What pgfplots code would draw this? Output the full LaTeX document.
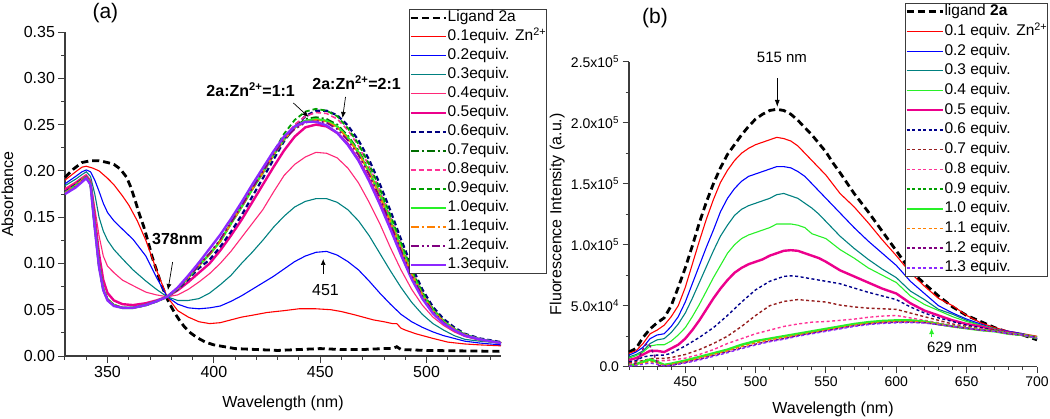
\documentclass[border=0pt]{standalone}
\usepackage{fontspec}
\setmainfont{Liberation Sans}
\usepackage{pgfplots}
\pgfplotsset{compat=1.18}
\usetikzlibrary{arrows.meta}

\definecolor{cteal}{RGB}{0,128,128}
\definecolor{cpinkred}{RGB}{255,40,120}
\definecolor{cpink}{RGB}{255,50,150}
\definecolor{cdgreen}{RGB}{0,110,0}
\definecolor{cgreen}{RGB}{0,160,0}
\definecolor{cbright}{RGB}{40,240,40}
\definecolor{corange}{RGB}{255,128,0}
\definecolor{cpurple}{RGB}{128,0,128}
\definecolor{cviolet}{RGB}{140,40,255}
\definecolor{cbrown}{RGB}{150,30,30}
\definecolor{caxis}{RGB}{60,60,60}

\pgfplotsset{
  spec/.style={
    scale only axis,
    axis lines=left,
    axis line style={-, line width=1.2pt, caxis},
    tick align=outside,
    major tick length=6.5pt,
    minor tick length=3.5pt,
    every tick/.style={line width=1pt, caxis},
    clip=false,
    legend cell align=left,
  },
  lig/.style={black, line width=2.8pt, dash pattern=on 7pt off 4pt},
  thin/.style={line width=1.1pt},
  fat/.style={line width=2.4pt},
}

\begin{document}
\begin{tikzpicture}
\path[use as bounding box] (0,0) rectangle (1050pt,418pt);

% ---------------- (a) absorption ----------------
\begin{axis}[spec,
  at={(65pt,62pt)}, anchor=south west,
  width=436pt, height=324pt,
  xmin=330, xmax=535, ymin=0, ymax=0.35,
  xtick={350,400,450,500}, xticklabels={350,400,450,500},
  minor xtick={330,340,...,530},
  ytick={0,0.05,0.1,0.15,0.2,0.25,0.3,0.35},
  yticklabels={0.00,0.05,0.10,0.15,0.20,0.25,0.30,0.35},
  minor ytick={0.025,0.075,0.125,0.175,0.225,0.275,0.325},
  tick label style={font=\fontsize{16}{18}\selectfont},
  xlabel={Wavelength (nm)}, ylabel={Absorbance},
  label style={font=\fontsize{16}{18}\selectfont},
  xlabel style={at={(axis description cs:0.5,-0.145)}, anchor=center},
  ylabel style={at={(axis description cs:-0.132,0.5)}, anchor=center},
  legend image code/.code={\draw[#1] (0pt,0pt) -- (35pt,0pt);},
  legend style={at={(0.789,1.071)}, anchor=north west, draw=caxis, line width=0.8pt,
    font=\fontsize{15.5}{17}\selectfont, inner xsep=0pt, inner ysep=1pt, row sep=4pt,
    nodes={inner sep=0.5pt, text height=11pt, text depth=3pt}},
]
\addplot[lig] coordinates {(330,0.193)(334,0.202)(338,0.209)(342,0.211)(346,0.211)(350,0.209)(353,0.207)(356,0.202)(359,0.193)(361,0.182)(363,0.168)(365,0.153)(367,0.140)(369,0.124)(371,0.107)(373,0.093)(375,0.079)(378,0.062)(380,0.053)(382,0.045)(384,0.038)(386,0.032)(389,0.025)(392,0.020)(396,0.015)(400,0.012)(405,0.010)(410,0.008)(420,0.007)(430,0.006)(440,0.007)(450,0.008)(460,0.007)(470,0.007)(480,0.008)(484,0.008)(486,0.010)(488,0.007)(500,0.006)(535,0.005)};
\addlegendentry{Ligand 2a}
\addplot[thin, red] coordinates {(330,0.190)(335,0.199)(338,0.204)(340,0.205)(343,0.203)(346,0.200)(350,0.192)(353,0.185)(357,0.173)(360,0.163)(364,0.146)(368,0.125)(373,0.093)(378,0.064)(383,0.049)(388,0.042)(393,0.037)(398,0.035)(403,0.036)(408,0.039)(413,0.042)(418,0.044)(425,0.047)(433,0.049)(440,0.051)(448,0.051)(455,0.050)(460,0.048)(467,0.044)(475,0.039)(480,0.037)(484,0.035)(486,0.035)(488,0.030)(490,0.028)(495,0.024)(503,0.019)(510,0.015)(518,0.013)(525,0.012)(535,0.011)};
\addlegendentry{0.1equiv. Zn\textsuperscript{2+}}
\addplot[thin, blue] coordinates {(330,0.186)(335,0.194)(338,0.199)(340,0.201)(342,0.199)(344,0.190)(346,0.178)(348,0.165)(350,0.155)(353,0.146)(357,0.137)(362,0.126)(368,0.108)(373,0.085)(378,0.064)(383,0.056)(388,0.052)(393,0.051)(398,0.052)(403,0.054)(408,0.059)(413,0.065)(418,0.072)(423,0.079)(428,0.086)(433,0.094)(438,0.102)(443,0.108)(448,0.112)(453,0.113)(458,0.109)(463,0.102)(468,0.093)(473,0.081)(478,0.068)(483,0.056)(488,0.045)(493,0.037)(498,0.031)(503,0.026)(508,0.022)(513,0.019)(518,0.016)(525,0.014)(535,0.012)};
\addlegendentry{0.2equiv.}
\addplot[thin, cteal] coordinates {(330,0.184)(335,0.191)(338,0.196)(340,0.199)(342,0.194)(344,0.175)(346,0.150)(348,0.135)(350,0.125)(353,0.115)(357,0.105)(362,0.093)(368,0.081)(373,0.072)(378,0.064)(383,0.060)(388,0.060)(393,0.062)(398,0.068)(403,0.077)(408,0.087)(413,0.100)(418,0.112)(423,0.125)(428,0.139)(433,0.151)(438,0.161)(443,0.167)(448,0.170)(453,0.170)(458,0.166)(463,0.158)(468,0.146)(473,0.130)(478,0.111)(483,0.092)(488,0.074)(493,0.058)(498,0.045)(503,0.035)(508,0.028)(513,0.022)(518,0.018)(525,0.016)(535,0.014)};
\addlegendentry{0.3equiv.}
\addplot[thin, cpinkred] coordinates {(330,0.181)(335,0.188)(338,0.193)(340,0.196)(342,0.190)(344,0.160)(346,0.130)(348,0.108)(350,0.097)(353,0.090)(357,0.082)(362,0.076)(368,0.069)(373,0.066)(378,0.064)(383,0.066)(388,0.072)(393,0.080)(398,0.089)(403,0.100)(408,0.113)(413,0.128)(418,0.143)(423,0.158)(428,0.177)(433,0.195)(438,0.207)(443,0.215)(448,0.220)(453,0.219)(458,0.214)(463,0.203)(468,0.187)(473,0.166)(478,0.143)(483,0.117)(488,0.093)(493,0.072)(498,0.055)(503,0.042)(508,0.033)(513,0.026)(518,0.021)(525,0.017)(535,0.014)};
\addlegendentry{0.4equiv.}
\addplot[fat, magenta] coordinates {(330,0.179)(335,0.186)(338,0.191)(340,0.194)(342,0.188)(344,0.150)(346,0.110)(348,0.082)(350,0.068)(353,0.060)(357,0.056)(362,0.055)(368,0.057)(373,0.060)(378,0.064)(383,0.071)(388,0.080)(393,0.090)(398,0.100)(403,0.114)(408,0.130)(413,0.147)(418,0.166)(423,0.185)(428,0.204)(433,0.222)(438,0.237)(443,0.247)(448,0.250)(453,0.248)(458,0.241)(463,0.229)(468,0.212)(473,0.191)(478,0.166)(483,0.139)(488,0.111)(493,0.085)(498,0.064)(503,0.048)(508,0.036)(513,0.028)(518,0.022)(525,0.018)(535,0.014)};
\addlegendentry{0.5equiv.}
\addplot[line width=2.2pt, blue!50!black, dash pattern=on 5pt off 3pt] coordinates {(330,0.177)(335,0.185)(338,0.191)(340,0.193)(342,0.186)(344,0.140)(346,0.098)(348,0.072)(350,0.061)(353,0.055)(357,0.052)(362,0.052)(368,0.055)(373,0.059)(378,0.064)(383,0.072)(388,0.083)(393,0.095)(398,0.104)(403,0.118)(408,0.134)(413,0.152)(418,0.172)(423,0.192)(428,0.212)(433,0.232)(438,0.248)(443,0.259)(448,0.265)(453,0.265)(458,0.260)(463,0.249)(468,0.233)(473,0.212)(478,0.186)(483,0.157)(488,0.126)(493,0.097)(498,0.072)(503,0.053)(508,0.040)(513,0.031)(518,0.024)(525,0.019)(535,0.015)};
\addlegendentry{0.6equiv.}
\addplot[line width=1.8pt, cdgreen, dash pattern=on 8pt off 3pt on 2pt off 3pt] coordinates {(330,0.176)(335,0.184)(338,0.190)(340,0.193)(342,0.186)(344,0.140)(346,0.098)(348,0.072)(350,0.061)(353,0.055)(357,0.052)(362,0.052)(368,0.055)(373,0.059)(378,0.064)(383,0.073)(388,0.085)(393,0.098)(398,0.110)(403,0.124)(408,0.143)(413,0.161)(418,0.180)(423,0.198)(428,0.217)(433,0.234)(438,0.247)(443,0.256)(448,0.258)(453,0.256)(458,0.250)(463,0.238)(468,0.222)(473,0.201)(478,0.176)(483,0.148)(488,0.119)(493,0.091)(498,0.067)(503,0.050)(508,0.037)(513,0.029)(518,0.023)(525,0.018)(535,0.014)};
\addlegendentry{0.7equiv.}
\addplot[line width=1.6pt, cpink, dash pattern=on 5pt off 3pt] coordinates {(330,0.176)(335,0.184)(338,0.190)(340,0.193)(342,0.186)(344,0.140)(346,0.098)(348,0.072)(350,0.061)(353,0.055)(357,0.052)(362,0.052)(368,0.055)(373,0.059)(378,0.064)(383,0.073)(388,0.085)(393,0.098)(398,0.110)(403,0.124)(408,0.143)(413,0.161)(418,0.180)(423,0.198)(428,0.217)(433,0.236)(438,0.250)(443,0.259)(448,0.263)(453,0.262)(458,0.256)(463,0.244)(468,0.227)(473,0.205)(478,0.179)(483,0.150)(488,0.120)(493,0.092)(498,0.068)(503,0.050)(508,0.037)(513,0.029)(518,0.023)(525,0.018)(535,0.014)};
\addlegendentry{0.8equiv.}
\addplot[line width=1.8pt, cgreen, dash pattern=on 5pt off 3pt] coordinates {(330,0.176)(335,0.184)(338,0.190)(340,0.193)(342,0.186)(344,0.140)(346,0.098)(348,0.072)(350,0.061)(353,0.055)(357,0.052)(362,0.052)(368,0.055)(373,0.059)(378,0.064)(383,0.073)(388,0.085)(393,0.098)(398,0.110)(403,0.125)(408,0.144)(413,0.162)(418,0.181)(423,0.200)(428,0.220)(433,0.240)(438,0.255)(443,0.264)(448,0.267)(453,0.265)(458,0.259)(463,0.246)(468,0.229)(473,0.207)(478,0.181)(483,0.152)(488,0.122)(493,0.093)(498,0.069)(503,0.051)(508,0.038)(513,0.029)(518,0.023)(525,0.018)(535,0.014)};
\addlegendentry{0.9equiv.}
\addplot[fat, cbright] coordinates {(330,0.176)(335,0.184)(338,0.190)(340,0.193)(342,0.186)(344,0.140)(346,0.098)(348,0.072)(350,0.061)(353,0.055)(357,0.052)(362,0.052)(368,0.055)(373,0.059)(378,0.064)(383,0.073)(388,0.085)(393,0.098)(398,0.110)(403,0.124)(408,0.143)(413,0.161)(418,0.180)(423,0.198)(428,0.217)(433,0.234)(438,0.247)(443,0.254)(448,0.256)(453,0.254)(458,0.248)(463,0.236)(468,0.220)(473,0.199)(478,0.174)(483,0.146)(488,0.117)(493,0.089)(498,0.066)(503,0.049)(508,0.037)(513,0.029)(518,0.023)(525,0.018)(535,0.014)};
\addlegendentry{1.0equiv.}
\addplot[line width=1.6pt, corange, dash pattern=on 8pt off 3pt on 2pt off 3pt] coordinates {(330,0.176)(335,0.184)(338,0.190)(340,0.193)(342,0.186)(344,0.140)(346,0.098)(348,0.072)(350,0.061)(353,0.055)(357,0.052)(362,0.052)(368,0.055)(373,0.059)(378,0.064)(383,0.073)(388,0.085)(393,0.098)(398,0.110)(403,0.124)(408,0.143)(413,0.161)(418,0.180)(423,0.198)(428,0.217)(433,0.234)(438,0.246)(443,0.253)(448,0.255)(453,0.253)(458,0.247)(463,0.235)(468,0.219)(473,0.198)(478,0.173)(483,0.145)(488,0.116)(493,0.088)(498,0.066)(503,0.049)(508,0.037)(513,0.029)(518,0.023)(525,0.018)(535,0.014)};
\addlegendentry{1.1equiv.}
\addplot[line width=1.6pt, cpurple, dash pattern=on 8pt off 3pt on 2pt off 3pt on 2pt off 3pt] coordinates {(330,0.175)(335,0.183)(338,0.189)(340,0.193)(342,0.186)(344,0.140)(346,0.098)(348,0.072)(350,0.061)(353,0.055)(357,0.052)(362,0.052)(368,0.055)(373,0.059)(378,0.064)(383,0.073)(388,0.085)(393,0.098)(398,0.111)(403,0.126)(408,0.144)(413,0.162)(418,0.181)(423,0.199)(428,0.217)(433,0.234)(438,0.245)(443,0.252)(448,0.254)(453,0.252)(458,0.245)(463,0.233)(468,0.217)(473,0.196)(478,0.171)(483,0.143)(488,0.114)(493,0.087)(498,0.065)(503,0.048)(508,0.036)(513,0.028)(518,0.023)(525,0.018)(535,0.014)};
\addlegendentry{1.2equiv.}
\addplot[fat, cviolet] coordinates {(330,0.175)(335,0.182)(338,0.188)(340,0.192)(342,0.185)(344,0.138)(346,0.096)(348,0.071)(350,0.060)(353,0.054)(357,0.052)(362,0.052)(368,0.055)(373,0.059)(378,0.064)(383,0.074)(388,0.087)(393,0.101)(398,0.116)(403,0.131)(408,0.148)(413,0.166)(418,0.185)(423,0.203)(428,0.221)(433,0.237)(438,0.248)(443,0.253)(448,0.253)(453,0.249)(458,0.241)(463,0.228)(468,0.211)(473,0.189)(478,0.164)(483,0.137)(488,0.109)(493,0.083)(498,0.062)(503,0.046)(508,0.035)(513,0.028)(518,0.022)(525,0.018)(535,0.014)};
\addlegendentry{1.3equiv.}

\node[font=\fontsize{21}{24}\selectfont] at (axis cs:349,0.3705) {(a)};
\node[font=\bfseries\fontsize{16}{18}\selectfont] at (axis cs:417.3,0.2874) {2a:Zn\textsuperscript{2+}=1:1};
\draw[-{Latex[length=6pt,width=5pt]}, line width=0.7pt] (axis cs:437.4,0.2733) -- (axis cs:444.5,0.2582);
\node[font=\bfseries\fontsize{16}{18}\selectfont] at (axis cs:467.1,0.2949) {2a:Zn\textsuperscript{2+}=2:1};
\draw[-{Latex[length=6pt,width=5pt]}, line width=0.7pt] (axis cs:461.9,0.2798) -- (axis cs:460.5,0.2571);
\node[font=\bfseries\fontsize{16}{18}\selectfont] at (axis cs:382.9,0.1264) {378nm};
\draw[-{Latex[length=6pt,width=5pt]}, line width=0.7pt] (axis cs:380.6,0.1015) -- (axis cs:378.4,0.0713);
\node[font=\fontsize{16}{18}\selectfont] at (axis cs:452.5,0.0713) {451};
\draw[-{Latex[length=6pt,width=5pt]}, line width=0.7pt] (axis cs:451.4,0.0886) -- (axis cs:451.4,0.1048);
\end{axis}

% ---------------- (b) fluorescence ----------------
\begin{axis}[spec,
  at={(629pt,51.3pt)}, anchor=south west,
  width=408pt, height=305pt,
  xmin=410, xmax=700, ymin=0, ymax=2.5,
  xtick={450,500,550,600,650,700}, xticklabels={450,500,550,600,650,700},
  minor xtick={410,420,...,690},
  ytick={0,0.5,1,1.5,2,2.5},
  yticklabels={0.0,5.0x10\textsuperscript{4},1.0x10\textsuperscript{5},1.5x10\textsuperscript{5},2.0x10\textsuperscript{5},2.5x10\textsuperscript{5}},
  minor ytick={0.25,0.75,1.25,1.75,2.25},
  tick label style={font=\fontsize{14}{16}\selectfont},
  xlabel={Wavelength (nm)}, ylabel={Fluorescence Intensity (a.u.)},
  label style={font=\fontsize{16}{18}\selectfont},
  xlabel style={at={(axis description cs:0.5,-0.139)}, anchor=center},
  ylabel style={at={(axis description cs:-0.176,0.5)}, anchor=center},
  legend image code/.code={\draw[#1] (0pt,0pt) -- (36pt,0pt);},
  legend style={at={(0.676,1.193)}, anchor=north west, draw=caxis, line width=0.8pt,
    font=\fontsize{15.5}{17}\selectfont, inner xsep=0pt, inner ysep=1pt, row sep=4.7pt,
    nodes={inner sep=0.5pt, text height=11pt, text depth=3pt}},
]
\addplot[lig] coordinates {(410,0.12)(415,0.15)(420,0.24)(425,0.31)(430,0.36)(435,0.40)(440,0.50)(445,0.65)(450,0.81)(455,0.99)(460,1.18)(465,1.35)(470,1.50)(475,1.63)(480,1.74)(485,1.82)(490,1.90)(495,1.97)(500,2.03)(505,2.07)(510,2.10)(515,2.11)(520,2.10)(525,2.07)(530,2.02)(535,1.96)(540,1.90)(545,1.83)(550,1.76)(555,1.67)(560,1.59)(570,1.42)(580,1.27)(590,1.11)(600,0.95)(610,0.79)(620,0.68)(630,0.58)(640,0.49)(650,0.42)(660,0.37)(670,0.32)(680,0.28)(690,0.26)(700,0.22)};
\addlegendentry{ligand \textbf{2a}}
\addplot[thin, red] coordinates {(410,0.11)(415,0.13)(420,0.19)(425,0.27)(430,0.30)(435,0.34)(440,0.41)(445,0.50)(450,0.65)(455,0.84)(460,1.03)(465,1.21)(470,1.37)(475,1.51)(480,1.61)(485,1.69)(490,1.75)(495,1.79)(500,1.82)(505,1.84)(510,1.86)(515,1.88)(520,1.87)(525,1.85)(530,1.81)(535,1.75)(540,1.69)(545,1.63)(550,1.57)(560,1.42)(570,1.31)(580,1.18)(590,1.04)(600,0.91)(610,0.77)(620,0.66)(630,0.56)(640,0.50)(650,0.42)(660,0.36)(670,0.32)(680,0.29)(690,0.27)(700,0.25)};
\addlegendentry{0.1 equiv. Zn\textsuperscript{2+}}
\addplot[thin, blue] coordinates {(410,0.095)(415,0.12)(420,0.16)(425,0.23)(430,0.26)(435,0.27)(440,0.33)(445,0.41)(450,0.53)(455,0.68)(460,0.83)(465,0.98)(470,1.12)(475,1.27)(480,1.38)(485,1.46)(490,1.52)(495,1.56)(500,1.58)(505,1.60)(510,1.62)(515,1.64)(520,1.64)(525,1.63)(530,1.60)(535,1.56)(540,1.50)(545,1.44)(550,1.38)(560,1.26)(570,1.14)(580,1.03)(590,0.93)(600,0.83)(610,0.70)(620,0.60)(630,0.50)(640,0.44)(650,0.39)(660,0.35)(670,0.31)(680,0.29)(690,0.27)(700,0.23)};
\addlegendentry{0.2 equiv.}
\addplot[thin, cteal] coordinates {(410,0.08)(415,0.10)(420,0.13)(425,0.19)(430,0.22)(435,0.23)(440,0.28)(445,0.35)(450,0.44)(455,0.56)(460,0.69)(465,0.82)(470,0.95)(475,1.07)(480,1.16)(485,1.24)(490,1.29)(495,1.32)(500,1.34)(505,1.36)(510,1.38)(515,1.41)(520,1.42)(525,1.40)(530,1.38)(535,1.34)(540,1.30)(545,1.25)(550,1.19)(560,1.07)(570,0.97)(580,0.88)(590,0.80)(600,0.73)(610,0.62)(620,0.55)(630,0.47)(640,0.43)(650,0.38)(660,0.34)(670,0.31)(680,0.28)(690,0.26)(700,0.23)};
\addlegendentry{0.3 equiv.}
\addplot[thin, cbright] coordinates {(410,0.07)(415,0.09)(420,0.12)(425,0.17)(430,0.18)(435,0.18)(440,0.21)(445,0.26)(450,0.32)(455,0.41)(460,0.51)(465,0.62)(470,0.73)(475,0.83)(480,0.93)(485,1.00)(490,1.05)(495,1.08)(500,1.10)(505,1.12)(510,1.14)(515,1.17)(520,1.17)(525,1.17)(530,1.16)(535,1.14)(540,1.09)(545,1.07)(550,1.05)(560,0.96)(570,0.89)(580,0.81)(590,0.75)(600,0.69)(610,0.58)(620,0.51)(630,0.46)(640,0.41)(650,0.37)(660,0.34)(670,0.31)(680,0.28)(690,0.26)(700,0.23)};
\addlegendentry{0.4 equiv.}
\addplot[fat, magenta] coordinates {(410,0.055)(415,0.07)(420,0.10)(425,0.13)(430,0.13)(435,0.12)(440,0.15)(445,0.18)(450,0.23)(455,0.30)(460,0.38)(465,0.47)(470,0.56)(475,0.64)(480,0.71)(485,0.77)(490,0.81)(495,0.84)(500,0.86)(505,0.88)(510,0.91)(515,0.93)(520,0.95)(525,0.955)(530,0.95)(535,0.93)(540,0.91)(545,0.89)(550,0.86)(560,0.79)(570,0.74)(580,0.69)(590,0.64)(600,0.60)(610,0.52)(620,0.46)(630,0.42)(640,0.38)(650,0.35)(660,0.33)(670,0.30)(680,0.28)(690,0.26)(700,0.24)};
\addlegendentry{0.5 equiv.}
\addplot[line width=1.4pt, blue!55!black, dash pattern=on 3pt off 2.5pt] coordinates {(410,0.04)(415,0.05)(420,0.08)(425,0.09)(430,0.095)(435,0.095)(440,0.11)(450,0.17)(460,0.24)(470,0.32)(480,0.42)(490,0.53)(500,0.63)(510,0.70)(520,0.74)(525,0.745)(530,0.74)(540,0.72)(550,0.70)(560,0.68)(570,0.645)(580,0.61)(590,0.58)(600,0.55)(610,0.49)(620,0.44)(630,0.40)(640,0.37)(650,0.34)(660,0.32)(670,0.30)(680,0.28)(690,0.26)(700,0.24)};
\addlegendentry{0.6 equiv.}
\addplot[line width=1.4pt, cbrown, dash pattern=on 3pt off 2.5pt] coordinates {(410,0.03)(415,0.04)(420,0.05)(425,0.065)(430,0.068)(435,0.068)(440,0.075)(450,0.10)(460,0.14)(470,0.19)(480,0.25)(490,0.33)(500,0.42)(510,0.50)(520,0.535)(530,0.55)(540,0.54)(550,0.53)(560,0.505)(570,0.49)(580,0.48)(590,0.475)(600,0.47)(610,0.44)(620,0.41)(630,0.38)(640,0.35)(650,0.33)(660,0.31)(670,0.30)(680,0.28)(690,0.26)(700,0.24)};
\addlegendentry{0.7 equiv.}
\addplot[line width=1.4pt, cpink, dash pattern=on 3pt off 2.5pt] coordinates {(410,0.02)(415,0.03)(420,0.04)(425,0.045)(430,0.05)(435,0.05)(440,0.055)(450,0.07)(460,0.10)(470,0.14)(480,0.19)(490,0.23)(500,0.27)(510,0.30)(520,0.33)(530,0.35)(540,0.365)(550,0.37)(560,0.38)(570,0.39)(580,0.405)(590,0.415)(600,0.42)(610,0.40)(620,0.38)(630,0.36)(640,0.34)(650,0.32)(660,0.31)(670,0.29)(680,0.28)(690,0.26)(700,0.24)};
\addlegendentry{0.8 equiv.}
\addplot[line width=1.4pt, cgreen, dash pattern=on 3pt off 2.5pt] coordinates {(410,0.01)(415,0.02)(420,0.035)(425,0.05)(430,0.035)(435,0.015)(440,0.022)(450,0.045)(460,0.075)(470,0.105)(480,0.135)(490,0.175)(500,0.205)(510,0.225)(520,0.245)(530,0.265)(540,0.285)(550,0.305)(560,0.325)(570,0.345)(580,0.36)(590,0.37)(600,0.375)(610,0.375)(620,0.365)(630,0.345)(640,0.33)(650,0.315)(660,0.30)(670,0.29)(680,0.27)(690,0.26)(700,0.24)};
\addlegendentry{0.9 equiv.}
\addplot[fat, cbright] coordinates {(410,0.01)(415,0.02)(420,0.04)(425,0.06)(430,0.04)(435,0.015)(440,0.025)(450,0.05)(460,0.08)(470,0.11)(480,0.14)(490,0.18)(500,0.21)(510,0.23)(520,0.25)(530,0.27)(540,0.29)(550,0.31)(560,0.33)(570,0.35)(580,0.365)(590,0.375)(600,0.38)(610,0.38)(620,0.37)(630,0.35)(640,0.33)(650,0.315)(660,0.30)(670,0.29)(680,0.27)(690,0.26)(700,0.24)};
\addlegendentry{1.0 equiv.}
\addplot[line width=1.4pt, corange, dash pattern=on 3pt off 2.5pt] coordinates {(410,0.01)(415,0.015)(420,0.03)(425,0.04)(430,0.03)(435,0.01)(440,0.018)(450,0.04)(460,0.07)(470,0.10)(480,0.13)(490,0.165)(500,0.195)(510,0.22)(520,0.24)(530,0.26)(540,0.28)(550,0.30)(560,0.32)(570,0.34)(580,0.355)(590,0.365)(600,0.37)(610,0.37)(620,0.365)(630,0.35)(640,0.33)(650,0.315)(660,0.30)(670,0.29)(680,0.27)(690,0.26)(700,0.24)};
\addlegendentry{1.1 equiv.}
\addplot[line width=1.4pt, cpurple, dash pattern=on 3pt off 2.5pt] coordinates {(410,0.0)(415,0.03)(418,0.10)(421,0.17)(423,0.19)(425,0.17)(428,0.09)(431,0.01)(435,0.005)(440,0.012)(450,0.035)(460,0.062)(470,0.092)(480,0.122)(490,0.155)(500,0.185)(510,0.21)(520,0.23)(530,0.255)(540,0.275)(550,0.295)(560,0.315)(570,0.335)(580,0.35)(590,0.36)(600,0.365)(610,0.365)(620,0.36)(630,0.345)(640,0.33)(650,0.315)(660,0.30)(670,0.29)(680,0.27)(690,0.26)(700,0.24)};
\addlegendentry{1.2 equiv.}
\addplot[line width=1.4pt, cviolet, dash pattern=on 3pt off 2.5pt] coordinates {(410,0.005)(415,0.01)(420,0.02)(425,0.03)(430,0.02)(435,0.008)(440,0.01)(450,0.03)(460,0.055)(470,0.085)(480,0.115)(490,0.148)(500,0.178)(510,0.205)(520,0.225)(530,0.25)(540,0.27)(550,0.29)(560,0.31)(570,0.33)(580,0.345)(590,0.355)(600,0.36)(610,0.362)(620,0.358)(630,0.345)(640,0.33)(650,0.315)(660,0.30)(670,0.29)(680,0.27)(690,0.26)(700,0.235)};
\addlegendentry{1.3 equiv.}

\node[font=\fontsize{21}{24}\selectfont] at (axis cs:428.5,2.858) {(b)};
\node[font=\fontsize{15}{17}\selectfont] at (axis cs:518.7,2.539) {515 nm};
\draw[-{Latex[length=7pt,width=5pt]}, line width=0.8pt] (axis cs:515.4,2.366) -- (axis cs:515.4,2.129);
\node[font=\fontsize{15}{17}\selectfont] at (axis cs:639.6,0.161) {629 nm};
\draw[-{Latex[length=6pt,width=5pt]}, line width=0.8pt, cbright] (axis cs:625.1,0.243) -- (axis cs:625.1,0.317);
\end{axis}
\end{tikzpicture}
\end{document}
